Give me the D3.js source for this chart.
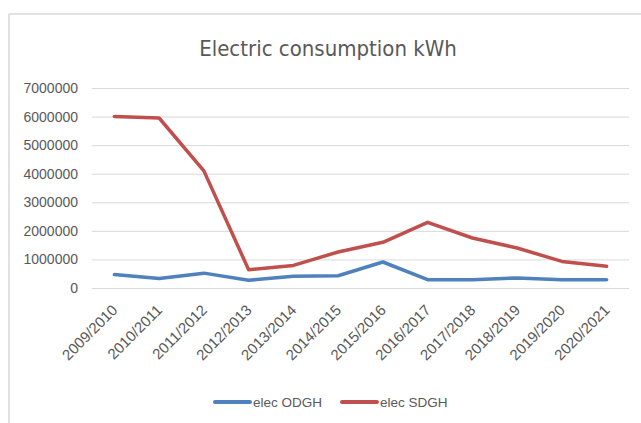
<!DOCTYPE html>
<html>
<head>
<meta charset="utf-8">
<script src="https://cdn.jsdelivr.net/npm/d3@7"></script>
<style>
  body { margin: 0; background: #fff; }
  svg { display: block; }
  text { font-family: "Liberation Sans", Arial, sans-serif; fill: #595959; }
</style>
</head>
<body>
<svg id="chart" width="641" height="423"></svg>
<script>
// seasons on the x axis
var seasons = ['2009/2010', '2010/2011', '2011/2012', '2012/2013', '2013/2014', '2014/2015',
               '2015/2016', '2016/2017', '2017/2018', '2018/2019', '2019/2020', '2020/2021'];
// kWh per season
var elecODGH = [470000, 330000, 520000, 270000, 410000, 430000, 910000, 290000, 290000, 350000, 290000, 290000];
var elecSDGH = [6000000, 5950000, 4100000, 640000, 790000, 1260000, 1600000, 2300000, 1750000, 1400000, 930000, 760000];
var yTicks = [0, 1000000, 2000000, 3000000, 4000000, 5000000, 6000000, 7000000];

var seriesNames = ['elec ODGH', 'elec SDGH'];
var colors = ['#4F81BD', '#C0504D'];

var svg = d3.select('#chart');

// chart frame (only top and left edges are visible in the crop)
svg.append('line').attr('x1', 9).attr('y1', 14).attr('x2', 641).attr('y2', 14)
   .attr('stroke', '#d9d9d9').attr('stroke-width', 1.5);
svg.append('line').attr('x1', 9).attr('y1', 14).attr('x2', 9).attr('y2', 423)
   .attr('stroke', '#d9d9d9').attr('stroke-width', 1.5);

// title
svg.append('text')
   .attr('x', 328).attr('y', 56)
   .attr('text-anchor', 'middle')
   .style('font-family', '"DejaVu Sans Condensed", sans-serif')
   .style('font-size', '22px')
   .text('Electric consumption kWh');

var x = d3.scaleBand().domain(seasons).range([92, 629]);
var y = d3.scaleLinear().domain([0, 7000000]).range([288, 88]);

// gridlines
svg.append('g')
   .attr('transform', 'translate(92,0)')
   .call(d3.axisLeft(y).tickValues(yTicks).tickSize(-537).tickFormat(''))
   .call(function(g) {
       g.select('.domain').remove();
       g.selectAll('line').attr('stroke', '#d9d9d9').attr('stroke-width', 1);
   });

// y labels
svg.append('g')
   .attr('transform', 'translate(78,0)')
   .call(d3.axisLeft(y).tickValues(yTicks).tickSize(0).tickPadding(0).tickFormat(d3.format('d')))
   .call(function(g) {
       g.select('.domain').remove();
       g.selectAll('text').style('font-size', '14px').attr('fill', '#595959')
        .style('font-family', '"Liberation Sans", Arial, sans-serif');
   });

// x labels, rotated
svg.append('g')
   .selectAll('text')
   .data(seasons)
   .enter().append('text')
   .attr('text-anchor', 'end')
   .style('font-size', '15px')
   .attr('transform', function(d) {
       return 'translate(' + (x(d) + x.bandwidth() / 2 + 4) + ',311) rotate(-45)';
   })
   .text(function(d) { return d; });

// lines
var line = d3.line()
   .x(function(d, i) { return x(seasons[i]) + x.bandwidth() / 2; })
   .y(function(d) { return y(d); });

[elecODGH, elecSDGH].forEach(function(s, i) {
   svg.append('path')
      .datum(s)
      .attr('fill', 'none')
      .attr('stroke', colors[i])
      .attr('stroke-width', 3.5)
      .attr('stroke-linejoin', 'round')
      .attr('stroke-linecap', 'round')
      .attr('d', line);
});

// legend
var legendX = [215, 342];
var legend = svg.append('g').selectAll('g')
   .data(seriesNames)
   .enter().append('g')
   .attr('transform', function(d, i) { return 'translate(' + legendX[i] + ',402)'; });

legend.append('line')
   .attr('x1', 0).attr('x2', 35).attr('y1', 0).attr('y2', 0)
   .attr('stroke', function(d, i) { return colors[i]; })
   .attr('stroke-width', 4)
   .attr('stroke-linecap', 'round');

legend.append('text')
   .attr('x', 38).attr('y', 5)
   .style('font-size', '13.5px')
   .text(function(d) { return d; });
</script>
</body>
</html>
